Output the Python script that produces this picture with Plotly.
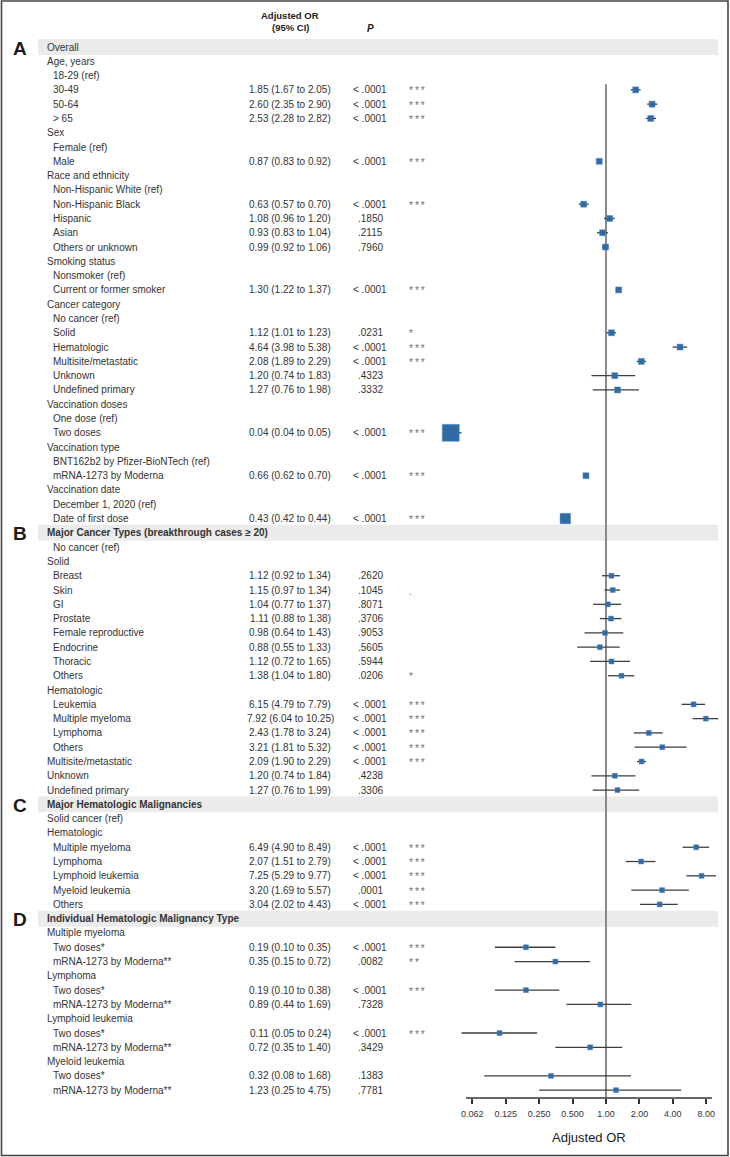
import math
import plotly.graph_objects as go

# ---------------- data ----------------
labels = [
    "Overall", "Age, years", "18-29 (ref)", "30-49", "50-64", "> 65",
    "Sex", "Female (ref)", "Male",
    "Race and ethnicity", "Non-Hispanic White (ref)", "Non-Hispanic Black", "Hispanic", "Asian", "Others or unknown",
    "Smoking status", "Nonsmoker (ref)", "Current or former smoker",
    "Cancer category", "No cancer (ref)", "Solid", "Hematologic", "Multisite/metastatic", "Unknown", "Undefined primary",
    "Vaccination doses", "One dose (ref)", "Two doses",
    "Vaccination type", "BNT162b2 by Pfizer-BioNTech (ref)", "mRNA-1273 by Moderna",
    "Vaccination date", "December 1, 2020 (ref)", "Date of first dose",
    "Major Cancer Types (breakthrough cases ≥ 20)", "No cancer (ref)", "Solid", "Breast", "Skin", "GI", "Prostate",
    "Female reproductive", "Endocrine", "Thoracic", "Others",
    "Hematologic", "Leukemia", "Multiple myeloma", "Lymphoma", "Others", "Multisite/metastatic", "Unknown", "Undefined primary",
    "Major Hematologic Malignancies", "Solid cancer (ref)", "Hematologic", "Multiple myeloma", "Lymphoma",
    "Lymphoid leukemia", "Myeloid leukemia", "Others",
    "Individual Hematologic Malignancy Type", "Multiple myeloma", "Two doses*", "mRNA-1273 by Moderna**",
    "Lymphoma", "Two doses*", "mRNA-1273 by Moderna**", "Lymphoid leukemia", "Two doses*", "mRNA-1273 by Moderna**",
    "Myeloid leukemia", "Two doses*", "mRNA-1273 by Moderna**",
]

# S = section header, G = group, I = item
kinds = [
    "S", "G", "I", "I", "I", "I",
    "G", "I", "I",
    "G", "I", "I", "I", "I", "I",
    "G", "I", "I",
    "G", "I", "I", "I", "I", "I", "I",
    "G", "I", "I",
    "G", "I", "I",
    "G", "I", "I",
    "S", "I", "G", "I", "I", "I", "I", "I", "I", "I", "I",
    "G", "I", "I", "I", "I", "G", "G", "G",
    "S", "G", "G", "I", "I", "I", "I", "I",
    "S", "G", "I", "I", "G", "I", "I", "G", "I", "I", "G", "I", "I",
]

section_letters = ["A", "B", "C", "D"]

odds = [
    None, None, None, 1.85, 2.60, 2.53,
    None, None, 0.87,
    None, None, 0.63, 1.08, 0.93, 0.99,
    None, None, 1.30,
    None, None, 1.12, 4.64, 2.08, 1.20, 1.27,
    None, None, 0.04,
    None, None, 0.66,
    None, None, 0.43,
    None, None, None, 1.12, 1.15, 1.04, 1.11, 0.98, 0.88, 1.12, 1.38,
    None, 6.15, 7.92, 2.43, 3.21, 2.09, 1.20, 1.27,
    None, None, None, 6.49, 2.07, 7.25, 3.20, 3.04,
    None, None, 0.19, 0.35, None, 0.19, 0.89, None, 0.11, 0.72, None, 0.32, 1.23,
]

ci_low = [
    None, None, None, 1.67, 2.35, 2.28,
    None, None, 0.83,
    None, None, 0.57, 0.96, 0.83, 0.92,
    None, None, 1.22,
    None, None, 1.01, 3.98, 1.89, 0.74, 0.76,
    None, None, 0.04,
    None, None, 0.62,
    None, None, 0.42,
    None, None, None, 0.92, 0.97, 0.77, 0.88, 0.64, 0.55, 0.72, 1.04,
    None, 4.79, 6.04, 1.78, 1.81, 1.90, 0.74, 0.76,
    None, None, None, 4.90, 1.51, 5.29, 1.69, 2.02,
    None, None, 0.10, 0.15, None, 0.10, 0.44, None, 0.05, 0.35, None, 0.08, 0.25,
]

ci_high = [
    None, None, None, 2.05, 2.90, 2.82,
    None, None, 0.92,
    None, None, 0.70, 1.20, 1.04, 1.06,
    None, None, 1.37,
    None, None, 1.23, 5.38, 2.29, 1.83, 1.98,
    None, None, 0.05,
    None, None, 0.70,
    None, None, 0.44,
    None, None, None, 1.34, 1.34, 1.37, 1.38, 1.43, 1.33, 1.65, 1.80,
    None, 7.79, 10.25, 3.24, 5.32, 2.29, 1.84, 1.99,
    None, None, None, 8.49, 2.79, 9.77, 5.57, 4.43,
    None, None, 0.35, 0.72, None, 0.38, 1.69, None, 0.24, 1.40, None, 1.68, 4.75,
]

p_values = [
    "", "", "", "< .0001", "< .0001", "< .0001",
    "", "", "< .0001",
    "", "", "< .0001", ".1850", ".2115", ".7960",
    "", "", "< .0001",
    "", "", ".0231", "< .0001", "< .0001", ".4323", ".3332",
    "", "", "< .0001",
    "", "", "< .0001",
    "", "", "< .0001",
    "", "", "", ".2620", ".1045", ".8071", ".3706", ".9053", ".5605", ".5944", ".0206",
    "", "< .0001", "< .0001", "< .0001", "< .0001", "< .0001", ".4238", ".3306",
    "", "", "", "< .0001", "< .0001", "< .0001", ".0001", "< .0001",
    "", "", "< .0001", ".0082", "", "< .0001", ".7328", "", "< .0001", ".3429", "", ".1383", ".7781",
]

signif = [
    "", "", "", "***", "***", "***",
    "", "", "***",
    "", "", "***", "", "", "",
    "", "", "***",
    "", "", "*", "***", "***", "", "",
    "", "", "***",
    "", "", "***",
    "", "", "***",
    "", "", "", "", ".", "", "", "", "", "", "*",
    "", "***", "***", "***", "***", "***", "", "",
    "", "", "", "***", "***", "***", "***", "***",
    "", "", "***", "**", "", "***", "", "", "***", "", "", "", "",
]

tick_vals = [0.0625, 0.125, 0.25, 0.5, 1, 2, 4, 8]
tick_text = ["0.062", "0.125", "0.250", "0.500", "1.00", "2.00", "4.00", "8.00"]

# ---------------- layout geometry / styles ----------------
W, H = 730, 1157
MB = 59
PLOT_H = H - MB
PITCH = 14.29
ROW1_PX = 47.0
X1_PX = 606.0
PX_PER_DOUBLING = 33.43

y_top = 1 - ROW1_PX / PITCH
y_bottom = 1 + (PLOT_H - ROW1_PX) / PITCH
x_left = math.log10(2) * (0 - X1_PX) / PX_PER_DOUBLING
x_right = math.log10(2) * (W - X1_PX) / PX_PER_DOUBLING

FONT = "Liberation Sans, Arial, Helvetica, sans-serif"
TXT = "#333333"
BLUE = "#2f6ca6"


def xp(px):
    return px / W


def yp(px):
    return (PLOT_H - px) / PLOT_H


rows = list(range(1, len(labels) + 1))

fig = go.Figure()

# CI lines
cx, cy = [], []
for r, o, lo, hi in zip(rows, odds, ci_low, ci_high):
    if o is None:
        continue
    cx += [lo, hi, None]
    cy += [r, r, None]
fig.add_trace(go.Scatter(x=cx, y=cy, mode="lines",
                         line=dict(color="#3d3d3d", width=1.3),
                         hoverinfo="skip", showlegend=False))

# markers
mx, my, ms = [], [], []
section_idx = -1
for i, (r, o) in enumerate(zip(rows, odds)):
    if kinds[i] == "S":
        section_idx += 1
    if o is None:
        continue
    size = 6 if section_idx == 0 else 5
    if labels[i] == "Two doses":
        size = 17
    elif labels[i] == "Date of first dose":
        size = 10.5
    mx.append(o)
    my.append(r)
    ms.append(size)
fig.add_trace(go.Scatter(x=mx, y=my, mode="markers",
                         marker=dict(symbol="square", size=ms, color=BLUE, opacity=1,
                                     line=dict(color="#5b8dc0", width=0.5)),
                         hoverinfo="skip", showlegend=False, cliponaxis=False))

shapes = []
annotations = []

# section bands + letters
sec = 0
for i, r in enumerate(rows):
    if kinds[i] == "S":
        shapes.append(dict(type="rect", xref="paper", yref="y", layer="below",
                           x0=xp(38), x1=xp(718), y0=r - 8 / PITCH, y1=r + 8 / PITCH,
                           fillcolor="#ebebeb", line=dict(width=0)))
        annotations.append(dict(xref="paper", yref="y", x=xp(20), y=r, yshift=-1,
                                text="<b>%s</b>" % section_letters[sec], showarrow=False,
                                xanchor="center", yanchor="middle",
                                font=dict(family=FONT, size=19, color="#1a1a1a")))
        sec += 1

# reference line at OR = 1
shapes.append(dict(type="line", xref="x", yref="y", layer="below",
                   x0=1, x1=1, y0=3.6, y1=y_bottom,
                   line=dict(color="#8a8a8a", width=2)))
# axis line
shapes.append(dict(type="line", xref="x", yref="paper",
                   x0=0.055, x1=9.0, y0=0, y1=0,
                   line=dict(color="#333333", width=1.5)))
# outer frame
shapes.append(dict(type="rect", xref="paper", yref="paper",
                   x0=xp(1.5), x1=xp(728), y0=yp(1155.5), y1=yp(1.0),
                   line=dict(color="#444444", width=1.6), fillcolor="rgba(0,0,0,0)"))

# row texts
for i, r in enumerate(rows):
    k = kinds[i]
    lx = 52 if k == "I" else 46
    txt = labels[i]
    if k == "S" and i > 0:
        txt = "<b>%s</b>" % labels[i]
    annotations.append(dict(xref="paper", yref="y", x=xp(lx - 1), y=r, text=txt,
                            showarrow=False, xanchor="left", yanchor="middle",
                            font=dict(family=FONT, size=10, color=TXT)))
    if odds[i] is not None:
        annotations.append(dict(xref="paper", yref="y", x=xp(290), y=r,
                                text="%.2f (%.2f to %.2f)" % (odds[i], ci_low[i], ci_high[i]),
                                showarrow=False, xanchor="center", yanchor="middle",
                                font=dict(family=FONT, size=10, color=TXT)))
    if p_values[i]:
        annotations.append(dict(xref="paper", yref="y", x=xp(370), y=r, text=p_values[i],
                                showarrow=False, xanchor="center", yanchor="middle",
                                font=dict(family=FONT, size=10, color=TXT)))
    if signif[i]:
        annotations.append(dict(xref="paper", yref="y", x=xp(407), y=r, yshift=-1,
                                text="\u2009".join(signif[i]), showarrow=False,
                                xanchor="left", yanchor="middle",
                                font=dict(family=FONT, size=10, color="#6e6e6e")))

# column headers
annotations.append(dict(xref="paper", yref="paper", x=xp(290), y=yp(16), text="<b>Adjusted OR</b>",
                        showarrow=False, xanchor="center", yanchor="middle",
                        font=dict(family=FONT, size=9.5, color="#222222")))
annotations.append(dict(xref="paper", yref="paper", x=xp(290), y=yp(27), text="<b>(95% CI)</b>",
                        showarrow=False, xanchor="center", yanchor="middle",
                        font=dict(family=FONT, size=9.5, color="#222222")))
annotations.append(dict(xref="paper", yref="paper", x=xp(370), y=yp(29), text="<b><i>P</i></b>",
                        showarrow=False, xanchor="center", yanchor="middle",
                        font=dict(family=FONT, size=10, color="#222222")))
# axis title
annotations.append(dict(xref="paper", yref="paper", x=xp(589), y=yp(1137), text="Adjusted OR",
                        showarrow=False, xanchor="center", yanchor="middle",
                        font=dict(family=FONT, size=13, color="#222222")))

fig.update_layout(
    width=W, height=H,
    margin=dict(l=0, r=0, t=0, b=MB),
    paper_bgcolor="white", plot_bgcolor="rgba(0,0,0,0)",
    shapes=shapes, annotations=annotations,
    showlegend=False,
    xaxis=dict(type="log", range=[x_left, x_right], tickvals=tick_vals, ticktext=tick_text,
               showgrid=False, zeroline=False, showline=False,
               ticks="outside", ticklen=5, tickwidth=1.5, tickcolor="#333333",
               ticklabelstandoff=2,
               tickfont=dict(family=FONT, size=9, color="#333333")),
    yaxis=dict(range=[y_bottom, y_top], visible=False, showgrid=False, zeroline=False),
)

fig.write_html("out.html", config={"displayModeBar": False},
               post_script="document.body.style.margin='0';")
